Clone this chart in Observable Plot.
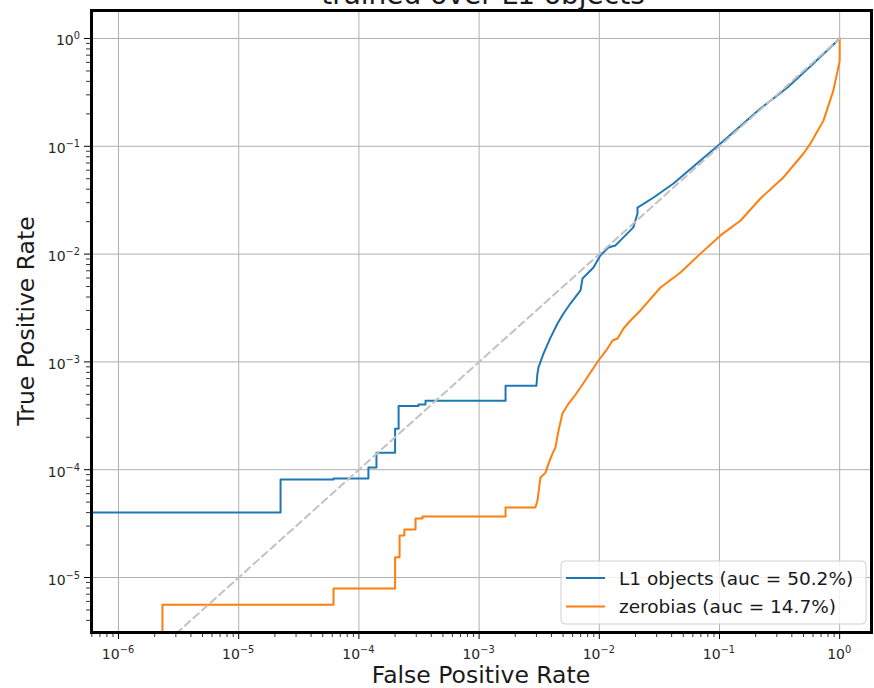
<!DOCTYPE html>
<html>
<head>
<meta charset="utf-8">
<script src="https://cdn.jsdelivr.net/npm/d3@7"></script>
<script src="https://cdn.jsdelivr.net/npm/@observablehq/plot@0.6"></script>
<style>
  body { margin: 0; background: #fff; }
  #chart { position: relative; width: 874px; height: 688px; overflow: hidden; }
</style>
</head>
<body>
<div id="chart"></div>
<script>
// ---------- text ----------
const titleText = "trained over L1 objects";
const xLabel = "False Positive Rate";
const yLabel = "True Positive Rate";
const seriesNames = ["L1 objects (auc = 50.2%)", "zerobias (auc = 14.7%)"];
const seriesColors = ["#1f77b4", "#ff7f0e"];

// ---------- tick values ----------
const xTickValues = [1e-6, 1e-5, 1e-4, 1e-3, 1e-2, 1e-1, 1];
const yTickValues = [1e-5, 1e-4, 1e-3, 1e-2, 1e-1, 1];

// ---------- series: L1 objects ----------
const l1Fpr = [0, 0, 2.23e-5, 2.23e-5, 6.15e-5, 6.15e-5, 1.2e-4, 1.2e-4, 1.40e-4, 1.40e-4,
  2.0e-4, 2.0e-4, 2.14e-4, 2.14e-4, 3.13e-4, 3.13e-4, 3.58e-4, 3.58e-4, 1.66e-3, 1.66e-3,
  3.0e-3, 3.05e-3, 3.12e-3, 3.44e-3, 3.93e-3, 4.49e-3, 5.04e-3, 5.75e-3, 6.98e-3, 7.25e-3,
  8.95e-3, 1.02e-2, 1.19e-2, 1.36e-2, 1.5e-2, 1.92e-2, 2.08e-2, 2.08e-2, 2.83e-2, 4.14e-2,
  6.95e-2, 0.102, 0.219, 0.368, 0.605, 1];
const l1Tpr = [0, 4.0e-5, 4.0e-5, 8.1e-5, 8.1e-5, 8.3e-5, 8.3e-5, 1.05e-4, 1.05e-4, 1.44e-4,
  1.44e-4, 2.4e-4, 2.4e-4, 3.9e-4, 3.9e-4, 4.03e-4, 4.03e-4, 4.37e-4, 4.37e-4, 6.0e-4,
  6.0e-4, 7.6e-4, 8.9e-4, 1.2e-3, 1.68e-3, 2.27e-3, 2.81e-3, 3.48e-3, 4.6e-3, 5.94e-3,
  7.5e-3, 9.7e-3, 1.15e-2, 1.2e-2, 1.34e-2, 1.77e-2, 2.38e-2, 2.7e-2, 3.35e-2, 4.52e-2,
  7.4e-2, 0.106, 0.224, 0.351, 0.586, 1];

// ---------- series: zerobias ----------
const zbFpr = [0, 2.32e-6, 2.32e-6, 6.15e-5, 6.15e-5, 2.0e-4, 2.0e-4, 2.18e-4, 2.18e-4, 2.39e-4,
  2.39e-4, 2.96e-4, 2.96e-4, 3.38e-4, 3.38e-4, 1.66e-3, 1.66e-3, 2.94e-3, 3.06e-3, 3.24e-3,
  3.57e-3, 3.78e-3, 4.08e-3, 4.32e-3, 4.58e-3, 4.94e-3, 5.55e-3, 6.1e-3, 6.98e-3, 8.45e-3,
  9.85e-3, 1.17e-2, 1.29e-2, 1.42e-2, 1.59e-2, 1.82e-2, 2.2e-2, 3.23e-2, 4.74e-2, 6.95e-2,
  0.102, 0.150, 0.219, 0.340, 0.500, 0.571, 0.733, 0.887, 1, 1];
const zbTpr = [0, 0, 5.6e-6, 5.6e-6, 7.9e-6, 7.9e-6, 1.54e-5, 1.54e-5, 2.45e-5, 2.45e-5,
  2.79e-5, 2.79e-5, 3.53e-5, 3.53e-5, 3.68e-5, 3.68e-5, 4.46e-5, 4.46e-5, 5.18e-5, 8.47e-5,
  9.4e-5, 1.14e-4, 1.41e-4, 1.61e-4, 2.31e-4, 3.32e-4, 4.11e-4, 4.68e-4, 5.79e-4, 7.98e-4,
  1.03e-3, 1.33e-3, 1.58e-3, 1.65e-3, 2.04e-3, 2.42e-3, 3.0e-3, 4.9e-3, 6.75e-3, 1.01e-2,
  1.49e-2, 2.05e-2, 3.28e-2, 5.14e-2, 8.57e-2, 0.106, 0.173, 0.33, 0.62, 1];

// ---------- chance diagonal ----------
const chanceFpr = [0, 1];
const chanceTpr = [0, 1];

// ---------- build tables ----------
const pos = v => (v > 0 ? v : 1e-12); // zero on log axis -> clipped off-frame
const toRows = (xs, ys) => xs.map((x, i) => ({fpr: pos(x), tpr: pos(ys[i])}));
const l1Rows = toRows(l1Fpr, l1Tpr);
const zbRows = toRows(zbFpr, zbTpr);
const chanceRows = toRows(chanceFpr, chanceTpr);

const xDomain = [5.96e-7, 1.84];
const yDomain = [3.09e-6, 1.818];
const minorOf = (dom) => {
  const out = [];
  for (let e = -8; e <= 1; e++) for (let m = 2; m <= 9; m++) {
    const v = m * Math.pow(10, e);
    if (v >= dom[0] && v <= dom[1]) out.push(v);
  }
  return out;
};
const xMinor = minorOf(xDomain);
const yMinor = minorOf(yDomain);

const W = 874, H = 688, mL = 91, mR = 3, mT = 10, mB = 56;
const plotW = W - mL - mR, plotH = H - mT - mB;

const plot = Plot.plot({
  width: W, height: H,
  marginLeft: mL, marginRight: mR, marginTop: mT, marginBottom: mB,
  style: {fontFamily: "DejaVu Sans", background: "white"},
  x: {type: "log", domain: xDomain, axis: null},
  y: {type: "log", domain: yDomain, axis: null},
  marks: [
    Plot.ruleX(xTickValues, {x: d => d, stroke: "#b0b0b0", strokeWidth: 1}),
    Plot.ruleY(yTickValues, {y: d => d, stroke: "#b0b0b0", strokeWidth: 1}),
    Plot.line(l1Rows, {x: "fpr", y: "tpr", stroke: seriesColors[0], strokeWidth: 2, clip: true}),
    Plot.line(zbRows, {x: "fpr", y: "tpr", stroke: seriesColors[1], strokeWidth: 2, clip: true}),
    Plot.line(chanceRows, {x: "fpr", y: "tpr", stroke: "#c2c2c2", strokeWidth: 2, strokeDasharray: "7,4.5", clip: true}),
    Plot.tickX(xMinor, {x: d => d, stroke: "black", strokeWidth: 0.8, insetTop: plotH, insetBottom: -5}),
    Plot.tickX(xTickValues, {x: d => d, stroke: "black", strokeWidth: 1, insetTop: plotH, insetBottom: -7}),
    Plot.tickY(yMinor, {y: d => d, stroke: "black", strokeWidth: 0.8, insetRight: plotW, insetLeft: -5}),
    Plot.tickY(yTickValues, {y: d => d, stroke: "black", strokeWidth: 1, insetRight: plotW, insetLeft: -7}),
    Plot.frame({stroke: "black", strokeWidth: 3})
  ]
});

document.getElementById("chart").appendChild(plot);

// ---------- text decorations using the plot's own scales ----------
const svg = d3.select(plot);
const sx = plot.scale("x"), sy = plot.scale("y");
const font = "DejaVu Sans";
const supText = e => (e < 0 ? "\u2212" + (-e) : String(e));

function powLabel(x, y, v, anchor) {
  const e = Math.round(Math.log10(v));
  const t = svg.append("text")
    .attr("x", x).attr("y", y)
    .attr("text-anchor", anchor)
    .attr("font-family", font).attr("font-size", 14).attr("fill", "#262626");
  t.append("tspan").text("10");
  t.append("tspan").attr("font-size", 9.8).attr("dy", -6).text(supText(e));
}
xTickValues.forEach(v => powLabel(sx.apply(v), mT + plotH + 27, v, "middle"));
yTickValues.forEach(v => powLabel(mL - 11, sy.apply(v) + 7.5, v, "end"));

// axis labels
svg.append("text").attr("x", mL + plotW / 2).attr("y", 683)
  .attr("text-anchor", "middle").attr("font-family", font).attr("font-size", 23.5)
  .attr("fill", "#1a1a1a").text(xLabel);
svg.append("text").attr("transform", `translate(34,${mT + plotH / 2}) rotate(-90)`)
  .attr("text-anchor", "middle").attr("font-family", font).attr("font-size", 23.5)
  .attr("fill", "#1a1a1a").text(yLabel);

// title (cut off at top, as in the reference)
svg.append("text").attr("x", 483).attr("y", 4)
  .attr("text-anchor", "middle").attr("font-family", font).attr("font-size", 28)
  .attr("fill", "#1a1a1a").text(titleText);

// legend
const lg = svg.append("g");
lg.append("rect").attr("x", 561).attr("y", 561).attr("width", 305).attr("height", 63)
  .attr("rx", 4).attr("fill", "white").attr("fill-opacity", 0.8)
  .attr("stroke", "#d0d0d0").attr("stroke-width", 1);
seriesNames.forEach((name, i) => {
  const cy = 578 + i * 28.5;
  lg.append("line").attr("x1", 566).attr("x2", 605).attr("y1", cy).attr("y2", cy)
    .attr("stroke", seriesColors[i]).attr("stroke-width", 2);
  lg.append("text").attr("x", 619).attr("y", cy + 6.5)
    .attr("text-anchor", "start")
    .attr("font-family", font).attr("font-size", 18.5).attr("fill", "#1a1a1a").text(name);
});
</script>
</body>
</html>
